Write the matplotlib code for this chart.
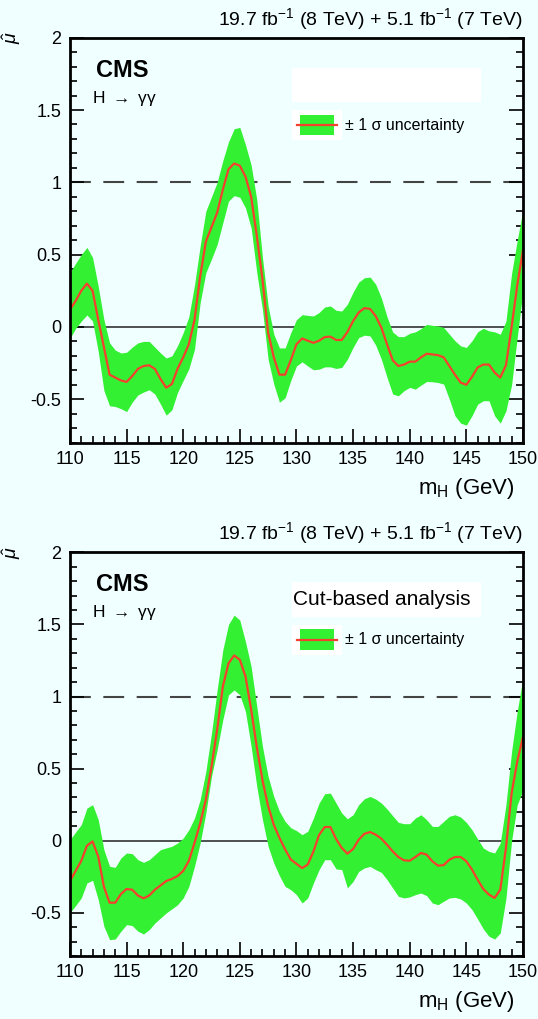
import numpy as np
import matplotlib
matplotlib.use("Agg")
import matplotlib.pyplot as plt
from matplotlib.patches import Rectangle
from matplotlib.lines import Line2D
from matplotlib.ticker import MultipleLocator

plt.rcParams['font.family'] = ['Liberation Sans', 'DejaVu Sans']
plt.rcParams['axes.unicode_minus'] = False
plt.rcParams['mathtext.fontset'] = 'custom'
plt.rcParams['mathtext.rm'] = 'Liberation Sans'
plt.rcParams['mathtext.it'] = 'Liberation Sans:italic'

# ---------------- data ----------------
mass = np.arange(110.0, 150.01, 0.5)

mu_top = [0.12, 0.18, 0.25, 0.30, 0.25, 0.05, -0.14, -0.33, -0.35, -0.37,
          -0.38, -0.34, -0.29, -0.27, -0.265, -0.29, -0.36, -0.42, -0.395, -0.29,
          -0.21, -0.12, 0.05, 0.35, 0.59, 0.69, 0.79, 0.95, 1.09, 1.13,
          1.115, 1.04, 0.90, 0.63, 0.33, -0.04, -0.21, -0.33, -0.33, -0.23,
          -0.12, -0.08, -0.095, -0.11, -0.095, -0.07, -0.067, -0.09, -0.09, -0.035,
          0.04, 0.10, 0.13, 0.125, 0.075, -0.005, -0.12, -0.23, -0.27, -0.26,
          -0.24, -0.24, -0.21, -0.185, -0.19, -0.195, -0.21, -0.27, -0.33, -0.385,
          -0.40, -0.345, -0.28, -0.26, -0.26, -0.315, -0.35, -0.265, 0.0, 0.29, 0.53]
hi_top = [0.375, 0.44, 0.50, 0.55, 0.48, 0.28, 0.05, -0.11, -0.16, -0.18,
          -0.175, -0.14, -0.11, -0.10, -0.10, -0.14, -0.18, -0.215, -0.20, -0.13,
          -0.04, 0.07, 0.29, 0.56, 0.80, 0.90, 1.0, 1.15, 1.28, 1.37,
          1.38, 1.26, 1.12, 0.88, 0.48, 0.145, -0.05, -0.145, -0.145, -0.04,
          0.05, 0.085, 0.08, 0.076, 0.10, 0.138, 0.145, 0.115, 0.11, 0.157,
          0.24, 0.31, 0.34, 0.345, 0.295, 0.20, 0.07, -0.035, -0.067, -0.067,
          -0.044, -0.034, -0.011, 0.018, 0.011, 0.007, -0.004, -0.05, -0.096, -0.131,
          -0.142, -0.096, -0.034, -0.009, -0.027, -0.034, -0.05, 0.04, 0.37, 0.60, 0.81]
lo_top = [-0.08, -0.01, 0.04, 0.083, 0.04, -0.17, -0.44, -0.545, -0.55, -0.565,
          -0.585, -0.52, -0.47, -0.45, -0.434, -0.464, -0.534, -0.61, -0.573, -0.453,
          -0.37, -0.29, -0.154, 0.168, 0.375, 0.47, 0.57, 0.72, 0.87, 0.908,
          0.897, 0.823, 0.685, 0.375, 0.12, -0.223, -0.395, -0.52, -0.49, -0.37,
          -0.27, -0.241, -0.27, -0.296, -0.292, -0.276, -0.276, -0.287, -0.28, -0.223,
          -0.142, -0.073, -0.057, -0.062, -0.126, -0.223, -0.349, -0.464, -0.476, -0.441,
          -0.418, -0.43, -0.402, -0.377, -0.379, -0.384, -0.395, -0.499, -0.614, -0.665,
          -0.679, -0.614, -0.534, -0.51, -0.51, -0.614, -0.665, -0.58, -0.40, -0.07, 0.25]

mu_bot = [-0.28, -0.21, -0.14, -0.035, -0.005, -0.11, -0.32, -0.43, -0.43, -0.37,
          -0.335, -0.34, -0.38, -0.40, -0.38, -0.34, -0.31, -0.28, -0.265, -0.245,
          -0.21, -0.14, -0.015, 0.12, 0.285, 0.515, 0.77, 1.07, 1.23, 1.285,
          1.255, 1.14, 0.91, 0.65, 0.42, 0.24, 0.11, 0.02, -0.06, -0.13,
          -0.16, -0.19, -0.165, -0.075, 0.04, 0.095, 0.095, 0.012, -0.05, -0.09,
          -0.058, 0.007, 0.048, 0.06, 0.042, 0.014, -0.028, -0.074, -0.113, -0.136,
          -0.139, -0.113, -0.085, -0.097, -0.143, -0.173, -0.169, -0.132, -0.113, -0.113,
          -0.143, -0.2, -0.27, -0.335, -0.374, -0.397, -0.34, -0.05, 0.33, 0.55, 0.72]
hi_bot = [0.007, 0.06, 0.111, 0.226, 0.25, 0.146, -0.062, -0.178, -0.185, -0.12,
          -0.085, -0.09, -0.132, -0.15, -0.132, -0.097, -0.062, -0.05, -0.039, -0.016,
          0.018, 0.076, 0.157, 0.284, 0.48, 0.746, 1.046, 1.323, 1.50, 1.565,
          1.53, 1.38, 1.208, 0.931, 0.654, 0.446, 0.307, 0.203, 0.134, 0.09,
          0.07, 0.042, 0.065, 0.157, 0.261, 0.326, 0.33, 0.261, 0.192, 0.152,
          0.18, 0.25, 0.291, 0.307, 0.289, 0.261, 0.22, 0.173, 0.127, 0.118,
          0.118, 0.157, 0.18, 0.145, 0.099, 0.099, 0.134, 0.169, 0.18, 0.164,
          0.127, 0.076, 0.012, -0.051, -0.074, -0.085, -0.016, 0.25, 0.62, 0.90, 1.13]
lo_bot = [-0.50, -0.45, -0.397, -0.293, -0.275, -0.409, -0.594, -0.686, -0.682, -0.628,
          -0.582, -0.589, -0.628, -0.647, -0.617, -0.571, -0.536, -0.501, -0.473, -0.444,
          -0.397, -0.317, -0.178, -0.016, 0.192, 0.446, 0.631, 0.839, 1.012, 1.046,
          1.012, 0.896, 0.654, 0.376, 0.146, -0.039, -0.155, -0.243, -0.317, -0.34,
          -0.374, -0.432, -0.397, -0.293, -0.201, -0.132, -0.132, -0.196, -0.20, -0.328,
          -0.282, -0.213, -0.189, -0.178, -0.201, -0.22, -0.27, -0.328, -0.386, -0.397,
          -0.39, -0.374, -0.363, -0.381, -0.432, -0.444, -0.42, -0.397, -0.393, -0.404,
          -0.432, -0.478, -0.543, -0.612, -0.663, -0.682, -0.64, -0.40, 0.0, 0.25, 0.35]

x_ticks = [110, 115, 120, 125, 130, 135, 140, 145, 150]
y_ticks = [-0.5, 0, 0.5, 1, 1.5, 2]
y_ticklabels = ['-0.5', '0', '0.5', '1', '1.5', '2']
lumi_text = r'19.7 fb$^{-1}$ (8 TeV) + 5.1 fb$^{-1}$ (7 TeV)'
legend_label = '± 1 σ uncertainty'
panel_titles = ['', 'Cut-based analysis']

# ---------------- style ----------------
BG = '#f0ffff'
GREEN = '#33f033'
RED = '#f4412e'

fig = plt.figure(figsize=(5.38, 10.19), dpi=100, facecolor=BG)

panels = [
    (mu_top, hi_top, lo_top, [0.130, 0.5656, 0.842, 0.3974]),
    (mu_bot, hi_bot, lo_bot, [0.130, 0.0618, 0.842, 0.3961]),
]

for i, (mu, hi, lo, rect) in enumerate(panels):
    ax = fig.add_axes(rect)
    ax.set_facecolor(BG)
    ax.set_xlim(110, 150)
    ax.set_ylim(-0.8, 2.0)

    ax.axhline(0, color='#333333', lw=1.2, zorder=1)
    ax.axhline(1, color='#444444', lw=1.5, ls=(0, (10, 6)), zorder=1)

    ax.fill_between(mass, lo, hi, color=GREEN, lw=0, zorder=2)
    ax.plot(mass, mu, color=RED, lw=1.6, zorder=3)

    ax.set_xticks(x_ticks)
    ax.set_xticklabels([str(t) for t in x_ticks])
    ax.set_yticks(y_ticks)
    ax.set_yticklabels(y_ticklabels)
    ax.xaxis.set_minor_locator(MultipleLocator(1))
    ax.yaxis.set_minor_locator(MultipleLocator(0.1))
    ax.tick_params(which='both', direction='in', top=False, right=True,
                   labelsize=13, width=1.2, colors='black', pad=6)
    ax.tick_params(which='major', length=10)
    ax.tick_params(which='minor', length=5)
    for sp in ax.spines.values():
        sp.set_linewidth(2.0)
        sp.set_zorder(5)

    ax.text(0.982, -0.113, r'm$_{\mathrm{H}}$ (GeV)', transform=ax.transAxes,
            ha='right', va='center', fontsize=16)
    ax.text(1.0, 1.015, lumi_text, transform=ax.transAxes,
            ha='right', va='bottom', fontsize=14)
    ax.text(-0.128, 1.0, r'$\hat{\mu}$', transform=ax.transAxes,
            ha='center', va='center', rotation=90, fontsize=14)
    ax.text(0.057, 0.92, 'CMS', transform=ax.transAxes, ha='left', va='center',
            fontsize=17, fontweight='bold')
    ax.text(0.049, 0.851, r'H $\rightarrow$ γγ', transform=ax.transAxes,
            ha='left', va='center', fontsize=12.5)

    # legend block
    ax.add_patch(Rectangle((0.490, 0.841), 0.417, 0.085, transform=ax.transAxes,
                           facecolor='white', edgecolor='none', zorder=6))
    if panel_titles[i]:
        ax.text(0.492, 0.884, panel_titles[i], transform=ax.transAxes,
                ha='left', va='center', fontsize=15, zorder=7)
    ax.add_patch(Rectangle((0.490, 0.747), 0.110, 0.074, transform=ax.transAxes,
                           facecolor='white', edgecolor='none', zorder=6))
    ax.add_patch(Rectangle((0.508, 0.759), 0.075, 0.050, transform=ax.transAxes,
                           facecolor=GREEN, edgecolor='none', zorder=7))
    ax.add_line(Line2D([0.501, 0.589], [0.784, 0.784], transform=ax.transAxes,
                       color=RED, lw=1.6, zorder=8))
    ax.text(0.607, 0.784, legend_label, transform=ax.transAxes,
            ha='left', va='center', fontsize=11.5, zorder=7)

fig.savefig('out.png', dpi=100, facecolor=BG)
